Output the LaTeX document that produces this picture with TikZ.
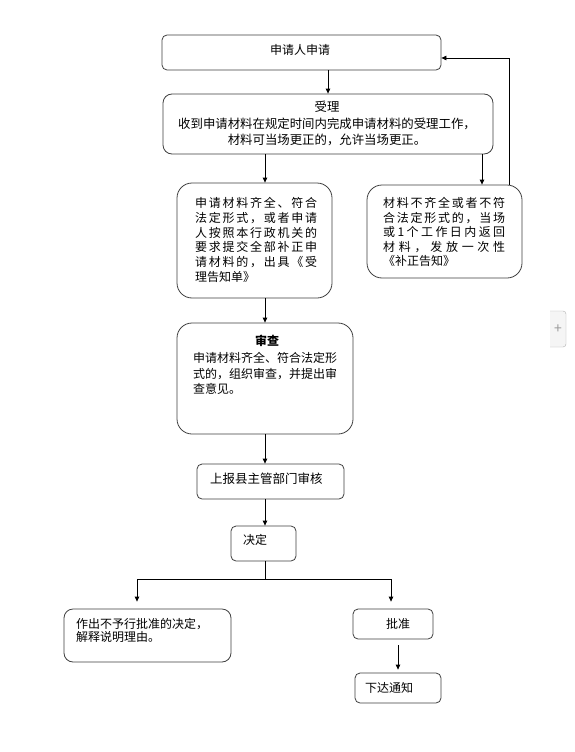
\documentclass[tikz,border=0pt]{standalone}
\usepackage{fontspec}
\setmainfont{Noto Sans CJK SC}
\usetikzlibrary{arrows.meta,calc}
\def\spr#1#2\relax{#1\sprB#2\relax}
\def\sprB#1{\ifx#1\relax\else\hfill#1\expandafter\sprB\fi}
\newcommand\jl[1]{\makebox[122pt][s]{\spr#1\relax}}
\begin{document}
\begin{tikzpicture}[x=1pt,y=-1pt,
  box/.style={draw=black!75, line width=0.8pt, fill=white, inner sep=0pt},
  sbox/.style={box, rounded corners=5pt},
  mbox/.style={box, rounded corners=9pt},
  lbox/.style={box, rounded corners=15pt},
  txt/.style={font=\fontsize{12}{15}\selectfont, inner sep=0pt, text=black},
  arr/.style={-{Triangle[length=5pt,width=4.5pt]}, line width=0.8pt},
  ln/.style={line width=0.8pt}]
\useasboundingbox (0,0) rectangle (575,752);
\fill[white] (0,0) rectangle (575,752);
% boxes
\node[sbox, minimum width=279pt, minimum height=35pt] (b1) at (301.5,52.5) {};
\node[mbox, minimum width=330pt, minimum height=60pt] (b2) at (328,124) {};
\node[lbox, minimum width=155pt, minimum height=115pt] (b3) at (254.5,240.5) {};
\node[lbox, minimum width=155pt, minimum height=93pt] (b4) at (444.5,231.5) {};
\node[lbox, minimum width=176pt, minimum height=111pt] (b5) at (265,378.5) {};
\node[sbox, minimum width=147pt, minimum height=35pt] (b6) at (270.5,481.5) {};
\node[sbox, minimum width=65pt, minimum height=35pt] (b7) at (263.5,543.5) {};
\node[mbox, minimum width=167pt, minimum height=53pt] (b8) at (147.5,635.5) {};
\node[sbox, minimum width=80pt, minimum height=30pt] (b9) at (393,624) {};
\node[sbox, minimum width=86pt, minimum height=30pt] (b10) at (398,688) {};
% texts (multi-line nodes are anchored at the baseline of their last line)
\node[txt, anchor=base] (t1) at (300,54.5) {申请人申请};
\node[txt, align=center, anchor=base, font=\fontsize{12.4}{16.5}\selectfont] (t2) at (327,144.5)
  {受理\\收到申请材料在规定时间内完成申请材料的受理工作，\\材料可当场更正的，允许当场更正。};
\node[txt, align=left, anchor=base west, font=\fontsize{12}{14.8}\selectfont] (t3) at (195,281.5)
  {\jl{申请材料齐全、符合}\\\jl{法定形式，或者申请}\\\jl{人按照本行政机关的}\\\jl{要求提交全部补正申}\\\jl{请材料的，出具《受}\\理告知单》};
\node[txt, align=left, anchor=base west, font=\fontsize{12}{14.5}\selectfont] (t4) at (383,265.5)
  {\jl{材料不齐全或者不符}\\\jl{合法定形式的，当场}\\\jl{或1个工作日内返回}\\\jl{材料，发放一次性}\\《补正告知》};
\node[txt, anchor=base, font=\fontsize{12}{15}\selectfont\bfseries] (t5a) at (267,345.5) {审查};
\node[txt, align=left, anchor=base west, font=\fontsize{12}{15.5}\selectfont] (t5b) at (193,393.5)
  {申请材料齐全、符合法定形\\式的，组织审查，并提出审\\查意见。};
\node[txt, anchor=base west, font=\fontsize{12.5}{15}\selectfont] (t6) at (210,483.5) {上报县主管部门审核};
\node[txt, anchor=base west] (t7) at (243,544.5) {决定};
\node[txt, align=left, anchor=base west, font=\fontsize{12}{12.8}\selectfont] (t8) at (76,641.3)
  {作出不予行批准的决定，\\解释说明理由。};
\node[txt, anchor=base] (t9) at (398,628.5) {批准};
\node[txt, anchor=base west] (t10) at (365,692.5) {下达通知};
% helper coordinates
\coordinate (xr) at (482,0);
\coordinate (fb) at (509,0);
\coordinate (fbTop) at (0,58);
\coordinate (jL) at (137,579);
\coordinate (jR) at (391,579);
\coordinate (sp) at (265,579);
% connectors
\draw[arr] (b1.south -| b2.north) -- (b2.north);
\draw[arr] (b2.south -| b5.north) -- (b3.north -| b5.north);
\draw[arr] (b2.south -| xr) -- (b4.north -| xr);
\draw[arr] (b4.north -| fb) |- (b1.east |- fbTop);
\draw[arr] (b3.south -| b5.north) -- (b5.north);
\draw[arr] (b5.south) -- (b6.north -| b5.south);
\draw[arr] (b6.south -| b5.south) -- (b7.north -| b5.south);
\draw[ln] (b7.south -| sp) -- (sp);
\draw[ln] (jL) -- (jR);
\draw[arr, shorten >=7pt] (jL) -- (jL |- b8.north);
\draw[arr, shorten >=7pt] (jR) -- (jR |- b9.north);
\draw[arr, shorten <=6pt, shorten >=3pt] (b9.south -| b10.north) -- (b10.north);
% side widget
\draw[gray!60, fill=gray!8, rounded corners=3pt] (550,311) -- (566,311) -- (566,347) -- (550,347);
\node[text=gray!80, font=\fontsize{14}{14}\selectfont, inner sep=0pt] (plus) at (558,329) {+};
\end{tikzpicture}
\end{document}
